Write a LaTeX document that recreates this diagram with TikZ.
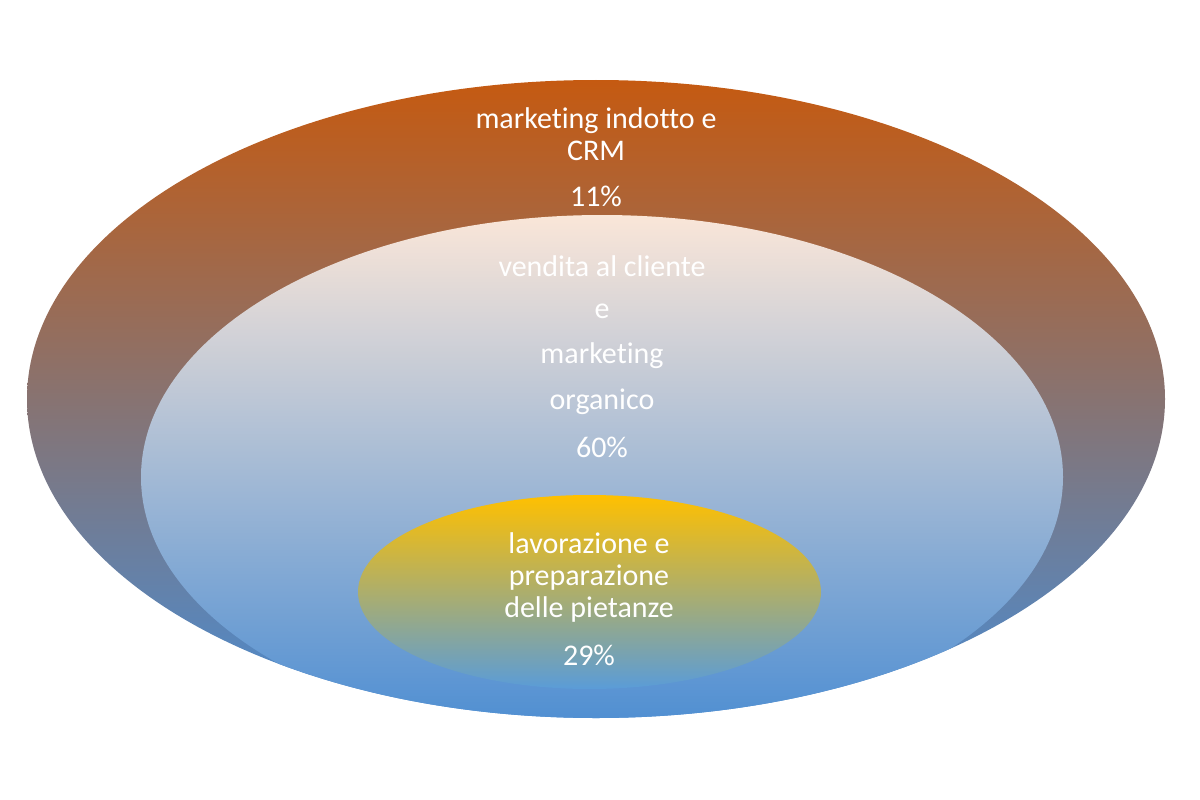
\documentclass[tikz,border=0pt]{standalone}
\usepackage{fontspec}
\setmainfont{Carlito}[Ligatures={NoCommon}]
\usetikzlibrary{shapes.geometric}
\definecolor{otop}{HTML}{C55A11}
\definecolor{obot}{HTML}{4A8CD2}
\definecolor{mtop}{HTML}{FAE6D8}
\definecolor{mmid}{HTML}{8CB4DE}
\definecolor{mbot}{HTML}{4A8CD2}
\definecolor{itop}{HTML}{FFC000}
\definecolor{ibot}{HTML}{5A9CD8}
\tikzset{
  lbl/.style={text=white, font=\fontsize{30}{32}\selectfont, align=center, inner sep=0pt},
}
\begin{document}
\begin{tikzpicture}[x=1pt,y=-1pt]
\useasboundingbox (0,0) rectangle (1200,800);
\shade[top color=otop, bottom color=obot] (596,399) ellipse [x radius=569, y radius=319];
\begin{scope}
\clip (596,399) ellipse [x radius=569, y radius=319];
\shade[top color=mtop, middle color=mmid, bottom color=mbot] (602,477) ellipse [x radius=461, y radius=262];
\end{scope}
\shade[top color=itop, bottom color=ibot] (589.5,592) ellipse [x radius=231.5, y radius=97];
\node[lbl] (t1) at (596,134) {marketing indotto e\\CRM};
\node[lbl] (p1) at (596,196) {11\%};
\node[lbl] (t2a) at (602,266) {vendita al cliente};
\node[lbl] (t2b) at (602,311) {e};
\node[lbl] (t2c) at (602,356) {marketing};
\node[lbl] (t2d) at (602,402) {organico};
\node[lbl] (p2) at (602,447) {60\%};
\node[lbl] (t3) at (589,577) {lavorazione e\\preparazione\\delle pietanze};
\node[lbl] (p3) at (589,655) {29\%};
\end{tikzpicture}
\end{document}
